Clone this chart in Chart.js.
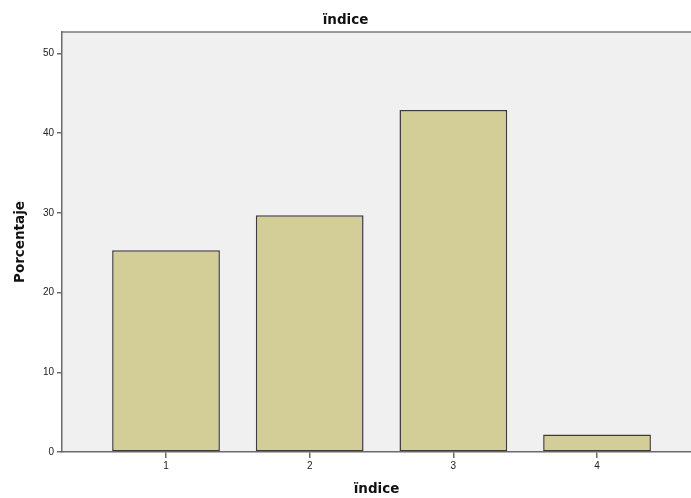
<!DOCTYPE html>
<html>
<head>
<meta charset="utf-8">
<script src="https://cdn.jsdelivr.net/npm/chart.js@4/dist/chart.umd.min.js"></script>
<style>
  html, body { margin: 0; padding: 0; background: #ffffff; }
  #chart { display: block; }
</style>
</head>
<body>
<canvas id="chart" width="691" height="498"></canvas>
<script>
const categories = [1, 2, 3, 4];
const percentages = [25.3, 29.7, 42.9, 2.2];
const yTicks = [0, 10, 20, 30, 40, 50];

const chartTitle = 'ïndice';
const xTitle = 'ïndice';
const yTitle = 'Porcentaje';

const axisColor = '#6b6b6b';
const tickFont = 'Arial, "Liberation Sans", sans-serif';
const titleFont = '"DejaVu Sans", sans-serif';

const plotBackground = {
  id: 'plotBackground',
  beforeDraw(chart) {
    const { ctx, chartArea } = chart;
    ctx.save();
    ctx.fillStyle = '#f0f0f0';
    ctx.fillRect(chartArea.left, chartArea.top, chartArea.right - chartArea.left, chartArea.bottom - chartArea.top);
    ctx.strokeStyle = '#7a7a7a';
    ctx.lineWidth = 1.5;
    ctx.beginPath();
    ctx.moveTo(chartArea.left, chartArea.top);
    ctx.lineTo(chartArea.right, chartArea.top);
    ctx.stroke();
    ctx.restore();
  }
};

const ctx = document.getElementById('chart').getContext('2d');

new Chart(ctx, {
  type: 'bar',
  data: {
    datasets: [{
      data: categories.map((c, i) => ({ x: c, y: percentages[i] })),
      backgroundColor: '#d3ce97',
      borderColor: '#3c3c3c',
      borderWidth: 1.5,
      borderSkipped: false,
      barPercentage: 0.75,
      categoryPercentage: 1,
    }],
  },
  options: {
    responsive: false,
    animation: false,
    devicePixelRatio: 1,
    layout: { padding: 0 },
    plugins: {
      legend: { display: false },
      tooltip: { enabled: false },
      title: {
        display: true,
        text: chartTitle,
        color: '#111',
        font: { family: titleFont, size: 13.5, weight: 'bold' },
        padding: { top: 12, bottom: 3.8 },
      },
    },
    scales: {
      x: {
        type: 'linear',
        offset: false,
        min: 0.276,
        max: 4.654,
        afterBuildTicks: (scale) => {
          scale.ticks = categories.map(v => ({ value: v }));
        },
        afterFit: (scale) => { scale.height = 46; },
        grid: {
          offset: false,
          drawOnChartArea: false,
          drawTicks: true,
          tickLength: 6,
          color: axisColor,
          lineWidth: 1.5,
        },
        border: { color: axisColor, width: 1.5 },
        ticks: {
          color: '#222',
          padding: 2,
          font: { family: tickFont, size: 10 },
        },
        title: {
          display: true,
          text: xTitle,
          color: '#111',
          font: { family: titleFont, size: 13.5, weight: 'bold' },
          padding: { top: 0, bottom: 0 },
        },
      },
      y: {
        min: 0,
        max: 52.7,
        afterBuildTicks: (scale) => {
          scale.ticks = yTicks.map(v => ({ value: v }));
        },
        afterFit: (scale) => { scale.width = 62; },
        grid: {
          drawOnChartArea: false,
          drawTicks: true,
          tickLength: 5,
          color: axisColor,
          lineWidth: 1.5,
        },
        border: { color: axisColor, width: 1.5 },
        ticks: {
          color: '#222',
          padding: 3,
          font: { family: tickFont, size: 10 },
        },
        title: {
          display: true,
          text: yTitle,
          color: '#111',
          font: { family: titleFont, size: 13.5, weight: 'bold' },
          padding: { top: 12, bottom: 0 },
        },
      },
    },
  },
  plugins: [plotBackground],
});
</script>
</body>
</html>
